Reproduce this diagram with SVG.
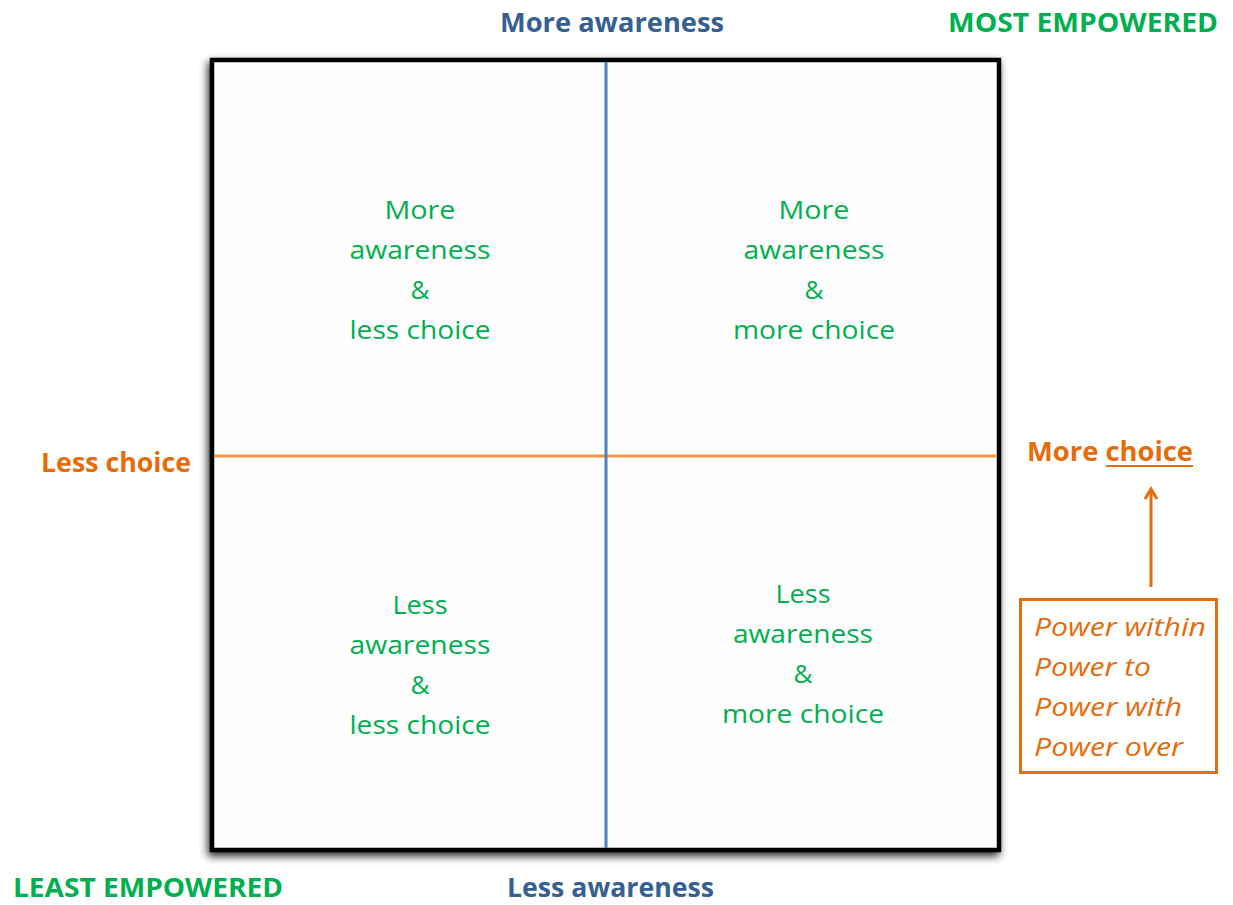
<svg xmlns="http://www.w3.org/2000/svg" width="1233" height="905" viewBox="0 0 1233 905">
<style>
.q{font-family:"Open Sans","Liberation Sans",sans-serif;font-size:26px;fill:#00B050;text-anchor:middle}
.lbl{font-family:"Open Sans","Liberation Sans",sans-serif;font-size:26px;font-weight:bold}
.blue{fill:#376092}
.green{fill:#00B050}
.orange{fill:#E46C0A}
.pw{font-family:"Open Sans","Liberation Sans",sans-serif;font-size:26px;font-style:italic;fill:#E46C0A}
</style>
<defs>
<filter id="sh" x="-10%" y="-10%" width="120%" height="120%">
<feGaussianBlur in="SourceAlpha" stdDeviation="4.5"/>
<feOffset dx="-2" dy="4" result="b"/>
<feComponentTransfer><feFuncA type="linear" slope="0.85"/></feComponentTransfer>
<feMerge><feMergeNode/><feMergeNode in="SourceGraphic"/></feMerge>
</filter>
<marker id="ah" markerWidth="14" markerHeight="14" refX="10" refY="7" orient="auto" markerUnits="userSpaceOnUse" viewBox="0 0 14 14">
<path d="M1,1 L11,7 L1,13" fill="none" stroke="#E46C0A" stroke-width="3"/>
</marker>
</defs>
<rect width="1233" height="905" fill="#ffffff"/>
<g id="frame">
<rect x="212" y="60" width="787" height="790" fill="#FDFDFD" stroke="#000" stroke-width="4.5" filter="url(#sh)"/>
</g>
<g id="connectors">
<line x1="214" y1="456" x2="997" y2="456" stroke="#F79646" stroke-width="3"/>
<line x1="606" y1="62" x2="606" y2="848" stroke="#4F81BD" stroke-width="3"/>
<line x1="1151" y1="587" x2="1151" y2="490" stroke="#E46C0A" stroke-width="3" marker-end="url(#ah)"/>
</g>
<g id="quadrant-tl">
<text class="q" x="420" y="219" textLength="71" lengthAdjust="spacingAndGlyphs">More</text>
<text class="q" x="420" y="259" textLength="141" lengthAdjust="spacingAndGlyphs">awareness</text>
<text class="q" x="420" y="299">&amp;</text>
<text class="q" x="420" y="339" textLength="141" lengthAdjust="spacingAndGlyphs">less choice</text>
</g>
<g id="quadrant-tr">
<text class="q" x="814" y="219" textLength="71" lengthAdjust="spacingAndGlyphs">More</text>
<text class="q" x="814" y="259" textLength="141" lengthAdjust="spacingAndGlyphs">awareness</text>
<text class="q" x="814" y="299">&amp;</text>
<text class="q" x="814" y="339" textLength="162" lengthAdjust="spacingAndGlyphs">more choice</text>
</g>
<g id="quadrant-bl">
<text class="q" x="420" y="614" textLength="55" lengthAdjust="spacingAndGlyphs">Less</text>
<text class="q" x="420" y="654" textLength="141" lengthAdjust="spacingAndGlyphs">awareness</text>
<text class="q" x="420" y="694">&amp;</text>
<text class="q" x="420" y="734" textLength="141" lengthAdjust="spacingAndGlyphs">less choice</text>
</g>
<g id="quadrant-br">
<text class="q" x="803" y="603" textLength="55" lengthAdjust="spacingAndGlyphs">Less</text>
<text class="q" x="803" y="643" textLength="140" lengthAdjust="spacingAndGlyphs">awareness</text>
<text class="q" x="803" y="683">&amp;</text>
<text class="q" x="803" y="723" textLength="162" lengthAdjust="spacingAndGlyphs">more choice</text>
</g>
<g id="label-more-awareness"><text class="lbl blue" x="500" y="32" textLength="224" lengthAdjust="spacingAndGlyphs">More awareness</text></g>
<g id="label-less-awareness"><text class="lbl blue" x="507" y="897" textLength="207" lengthAdjust="spacingAndGlyphs">Less awareness</text></g>
<g id="label-most"><text class="lbl green" x="948" y="32" textLength="270" lengthAdjust="spacingAndGlyphs">MOST EMPOWERED</text></g>
<g id="label-least"><text class="lbl green" x="13" y="897" textLength="270" lengthAdjust="spacingAndGlyphs">LEAST EMPOWERED</text></g>
<g id="label-less-choice"><text class="lbl orange" x="41" y="472" textLength="150" lengthAdjust="spacingAndGlyphs">Less choice</text></g>
<g id="label-more-choice">
<text class="lbl orange" x="1027" y="461" textLength="166" lengthAdjust="spacingAndGlyphs">More choice</text>
<line x1="1106" y1="466" x2="1193" y2="466" stroke="#E46C0A" stroke-width="2"/>
</g>
<g id="power-box">
<rect x="1020.5" y="599.5" width="196" height="173" fill="#fff" stroke="#E46C0A" stroke-width="3"/>
<text class="pw" x="1034" y="636" textLength="172" lengthAdjust="spacingAndGlyphs">Power within</text>
<text class="pw" x="1034" y="676" textLength="117" lengthAdjust="spacingAndGlyphs">Power to</text>
<text class="pw" x="1034" y="716" textLength="148" lengthAdjust="spacingAndGlyphs">Power with</text>
<text class="pw" x="1034" y="756" textLength="149" lengthAdjust="spacingAndGlyphs">Power over</text>
</g>
</svg>
